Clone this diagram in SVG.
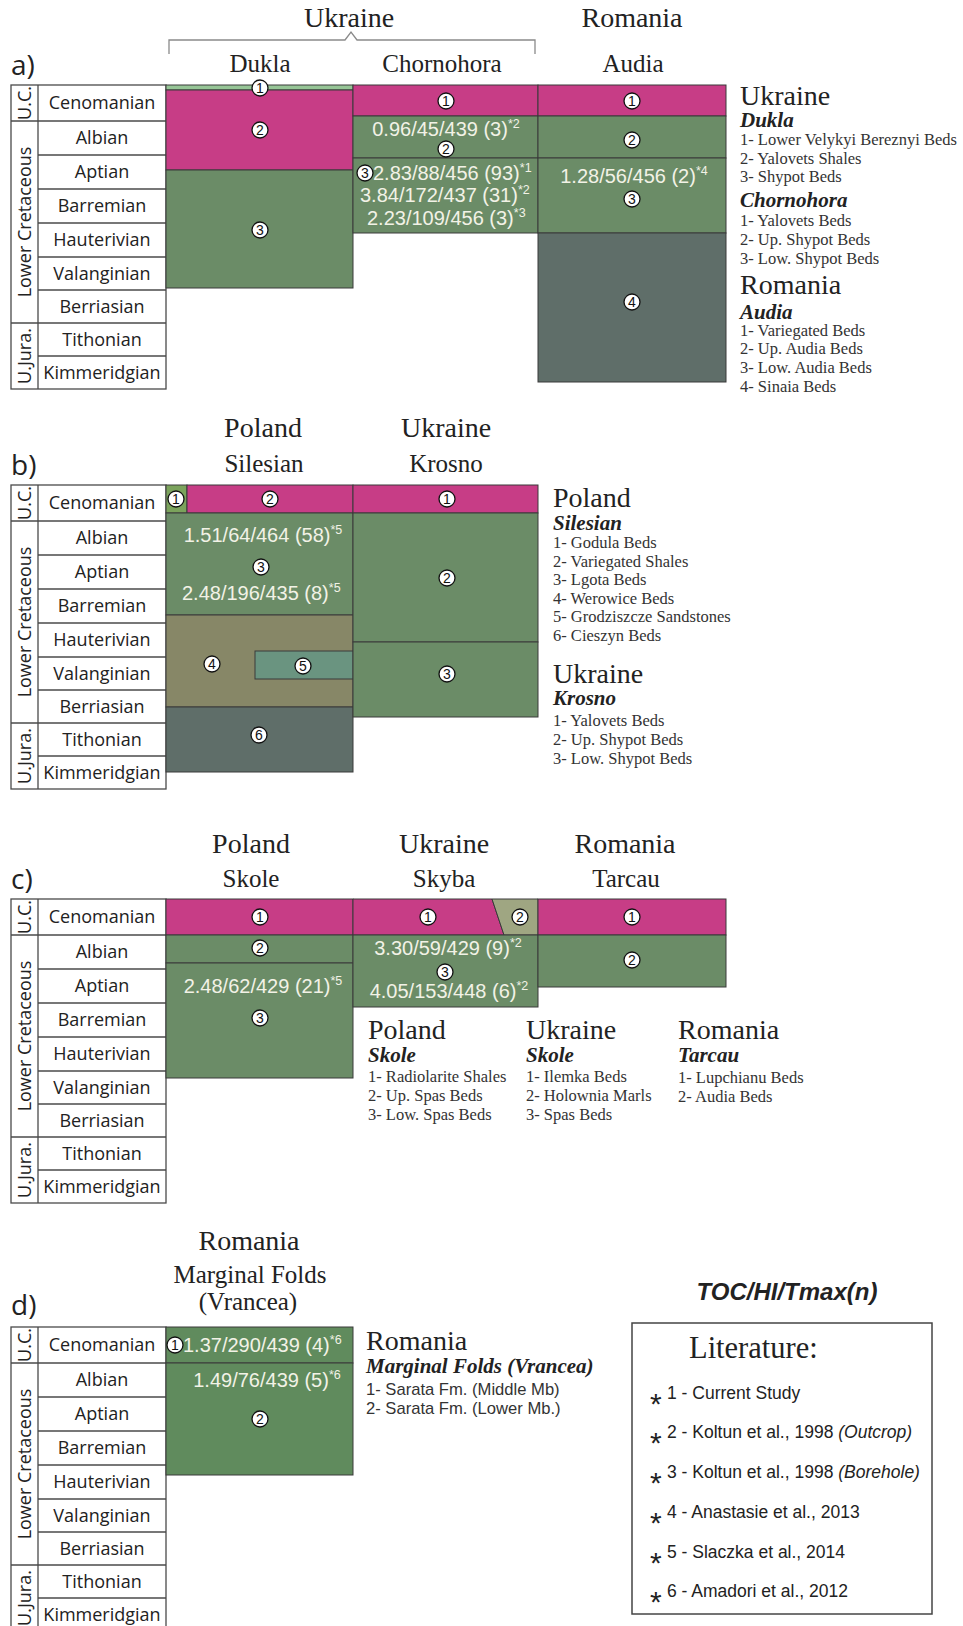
<svg xmlns="http://www.w3.org/2000/svg" width="963" height="1626" viewBox="0 0 963 1626">
<style>
.bg{fill:#ffffff}
.tbl{fill:none;stroke:#4a4a4a;stroke-width:1.3}
.ln{stroke:#4a4a4a;stroke-width:1.3}
.stage{font-family:"Open Sans","Liberation Sans",sans-serif;font-size:18px;fill:#222;text-anchor:middle}
.era{font-family:"Open Sans","Liberation Sans",sans-serif;font-size:18px;fill:#222;text-anchor:middle}
.plab{font-family:"Open Sans","Liberation Sans",sans-serif;font-size:28px;fill:#222}
.h1{font-family:"Liberation Serif","Times New Roman",serif;font-size:28px;fill:#222;text-anchor:middle}
.h2{font-family:"Liberation Serif","Times New Roman",serif;font-size:25px;fill:#222;text-anchor:middle}
.lg1{font-family:"Liberation Serif","Times New Roman",serif;font-size:28px;fill:#222}
.lg2{font-family:"Liberation Serif","Times New Roman",serif;font-size:21px;font-weight:bold;font-style:italic;fill:#222}
.lgi{font-family:"Liberation Serif","Times New Roman",serif;font-size:16.5px;fill:#333}
.lga{font-family:"Liberation Sans",Arial,sans-serif;font-size:16.6px;fill:#333}
.mag{fill:#c73d86;stroke:#3a3a3a;stroke-width:1}
.grn{fill:#6b8c67;stroke:#3a3a3a;stroke-width:1}
.olv{fill:#878767;stroke:#3a3a3a;stroke-width:1}
.tea{fill:#6a9480;stroke:#3a3a3a;stroke-width:1}
.slt{fill:#5f6e69;stroke:#3a3a3a;stroke-width:1}
.lgr{fill:#96c596;stroke:#3a3a3a;stroke-width:1}
.ygr{fill:#7ba35c;stroke:#3a3a3a;stroke-width:1}
.sol{fill:#9fa682;stroke:#3a3a3a;stroke-width:1}
.dgr{fill:#608b5d;stroke:#3a3a3a;stroke-width:1}
.val{font-family:"Liberation Sans",Arial,sans-serif;font-size:20px;fill:#f2f2e6}
.mid{text-anchor:middle}
.sup{font-size:12.5px}
.cc{fill:#ffffff;stroke:#111;stroke-width:1.3}
.cn{font-family:"Liberation Sans",Arial,sans-serif;font-size:14px;fill:#111;text-anchor:middle}
.lit{font-family:"Liberation Sans",Arial,sans-serif;font-size:17.5px;fill:#222}
.star{font-family:"Liberation Sans",Arial,sans-serif;font-size:30px;fill:#222}
</style>
<rect class="bg" x="0" y="0" width="963" height="1626"/>

<!-- ================= PANEL A ================= -->
<g id="panel-a-table">
  <rect class="tbl" x="11" y="85" width="155" height="304"/>
  <line class="ln" x1="38" y1="85" x2="38" y2="389"/>
  <line class="ln" x1="11" y1="121" x2="166" y2="121"/>
  <line class="ln" x1="38" y1="155" x2="166" y2="155"/>
  <line class="ln" x1="38" y1="189" x2="166" y2="189"/>
  <line class="ln" x1="38" y1="223" x2="166" y2="223"/>
  <line class="ln" x1="38" y1="257" x2="166" y2="257"/>
  <line class="ln" x1="38" y1="290" x2="166" y2="290"/>
  <line class="ln" x1="11" y1="323" x2="166" y2="323"/>
  <line class="ln" x1="38" y1="356" x2="166" y2="356"/>
  <text class="stage" x="102" y="109">Cenomanian</text>
  <text class="stage" x="102" y="144">Albian</text>
  <text class="stage" x="102" y="178">Aptian</text>
  <text class="stage" x="102" y="212">Barremian</text>
  <text class="stage" x="102" y="246">Hauterivian</text>
  <text class="stage" x="102" y="280">Valanginian</text>
  <text class="stage" x="102" y="313">Berriasian</text>
  <text class="stage" x="102" y="346">Tithonian</text>
  <text class="stage" x="102" y="379">Kimmeridgian</text>
  <text class="era" transform="translate(31,103) rotate(-90)">U.C.</text>
  <text class="era" transform="translate(31,222) rotate(-90)">Lower Cretaceous</text>
  <text class="era" transform="translate(31,356) rotate(-90)">U.Jura.</text>
</g>
<g id="panel-a-headers">
  <text class="plab" x="11" y="75">a)</text>
  <text class="h1" x="349" y="27">Ukraine</text>
  <text class="h1" x="632" y="27">Romania</text>
  <text class="h2" x="260" y="72">Dukla</text>
  <text class="h2" x="442" y="72">Chornohora</text>
  <text class="h2" x="633" y="72">Audia</text>
</g>
<g id="connectors">
  <polyline points="169,54 169,40 345,40 351,32 357,40 535,40 535,54" fill="none" stroke="#8a8a8a" stroke-width="1.3"/>
</g>
<g id="a-dukla">
  <rect class="lgr" x="166" y="85" width="187" height="5"/>
  <rect class="mag" x="166" y="90" width="187" height="80"/>
  <rect class="grn" x="166" y="170" width="187" height="118"/>
  <circle class="cc" cx="260" cy="88" r="8"/><text class="cn" x="260" y="93">1</text>
  <circle class="cc" cx="260" cy="130" r="8"/><text class="cn" x="260" y="135">2</text>
  <circle class="cc" cx="260" cy="230" r="8"/><text class="cn" x="260" y="235">3</text>
</g>
<g id="a-chornohora">
  <rect class="mag" x="353" y="85" width="185" height="31"/>
  <rect class="grn" x="353" y="116" width="185" height="42"/>
  <rect class="grn" x="353" y="158" width="185" height="75"/>
  <circle class="cc" cx="446" cy="101" r="8"/><text class="cn" x="446" y="106">1</text>
  <text class="val mid" x="446" y="136">0.96/45/439 (3)<tspan class="sup" dy="-8">*2</tspan></text>
  <circle class="cc" cx="446" cy="149" r="8"/><text class="cn" x="446" y="154">2</text>
  <circle class="cc" cx="365" cy="173" r="8"/><text class="cn" x="365" y="178">3</text>
  <text class="val" x="373" y="180">2.83/88/456 (93)<tspan class="sup" dy="-8">*1</tspan></text>
  <text class="val" x="360" y="202">3.84/172/437 (31)<tspan class="sup" dy="-8">*2</tspan></text>
  <text class="val" x="367" y="225">2.23/109/456 (3)<tspan class="sup" dy="-8">*3</tspan></text>
</g>
<g id="a-audia">
  <rect class="mag" x="538" y="85" width="188" height="31"/>
  <rect class="grn" x="538" y="116" width="188" height="42"/>
  <rect class="grn" x="538" y="158" width="188" height="75"/>
  <rect class="slt" x="538" y="233" width="188" height="149"/>
  <circle class="cc" cx="632" cy="101" r="8"/><text class="cn" x="632" y="106">1</text>
  <circle class="cc" cx="632" cy="140" r="8"/><text class="cn" x="632" y="145">2</text>
  <text class="val mid" x="634" y="183">1.28/56/456 (2)<tspan class="sup" dy="-8">*4</tspan></text>
  <circle class="cc" cx="632" cy="199" r="8"/><text class="cn" x="632" y="204">3</text>
  <circle class="cc" cx="632" cy="302" r="8"/><text class="cn" x="632" y="307">4</text>
</g>
<g id="a-legend">
  <text class="lg1" x="740" y="105">Ukraine</text>
  <text class="lg2" x="740" y="127">Dukla</text>
  <text class="lgi" x="740" y="145">1- Lower Velykyi Bereznyi Beds</text>
  <text class="lgi" x="740" y="164">2- Yalovets Shales</text>
  <text class="lgi" x="740" y="182">3- Shypot Beds</text>
  <text class="lg2" x="740" y="207">Chornohora</text>
  <text class="lgi" x="740" y="226">1- Yalovets Beds</text>
  <text class="lgi" x="740" y="245">2- Up. Shypot Beds</text>
  <text class="lgi" x="740" y="264">3- Low. Shypot Beds</text>
  <text class="lg1" x="740" y="294">Romania</text>
  <text class="lg2" x="740" y="319">Audia</text>
  <text class="lgi" x="740" y="336">1- Variegated Beds</text>
  <text class="lgi" x="740" y="354">2- Up. Audia Beds</text>
  <text class="lgi" x="740" y="373">3- Low. Audia Beds</text>
  <text class="lgi" x="740" y="392">4- Sinaia Beds</text>
</g>

<!-- ================= PANEL B ================= -->
<g id="panel-b-table">
  <rect class="tbl" x="11" y="485" width="155" height="304"/>
  <line class="ln" x1="38" y1="485" x2="38" y2="789"/>
  <line class="ln" x1="11" y1="521" x2="166" y2="521"/>
  <line class="ln" x1="38" y1="555" x2="166" y2="555"/>
  <line class="ln" x1="38" y1="589" x2="166" y2="589"/>
  <line class="ln" x1="38" y1="623" x2="166" y2="623"/>
  <line class="ln" x1="38" y1="657" x2="166" y2="657"/>
  <line class="ln" x1="38" y1="690" x2="166" y2="690"/>
  <line class="ln" x1="11" y1="723" x2="166" y2="723"/>
  <line class="ln" x1="38" y1="756" x2="166" y2="756"/>
  <text class="stage" x="102" y="509">Cenomanian</text>
  <text class="stage" x="102" y="544">Albian</text>
  <text class="stage" x="102" y="578">Aptian</text>
  <text class="stage" x="102" y="612">Barremian</text>
  <text class="stage" x="102" y="646">Hauterivian</text>
  <text class="stage" x="102" y="680">Valanginian</text>
  <text class="stage" x="102" y="713">Berriasian</text>
  <text class="stage" x="102" y="746">Tithonian</text>
  <text class="stage" x="102" y="779">Kimmeridgian</text>
  <text class="era" transform="translate(31,503) rotate(-90)">U.C.</text>
  <text class="era" transform="translate(31,622) rotate(-90)">Lower Cretaceous</text>
  <text class="era" transform="translate(31,756) rotate(-90)">U.Jura.</text>
</g>
<g id="panel-b-headers">
  <text class="plab" x="11" y="475">b)</text>
  <text class="h1" x="263" y="437">Poland</text>
  <text class="h2" x="264" y="472">Silesian</text>
  <text class="h1" x="446" y="437">Ukraine</text>
  <text class="h2" x="446" y="472">Krosno</text>
</g>
<g id="b-silesian">
  <rect class="ygr" x="166" y="485" width="21" height="28"/>
  <rect class="mag" x="187" y="485" width="166" height="28"/>
  <rect class="grn" x="166" y="513" width="187" height="102"/>
  <rect class="olv" x="166" y="615" width="187" height="92"/>
  <rect class="tea" x="255" y="651" width="98" height="28"/>
  <rect class="slt" x="166" y="707" width="187" height="65"/>
  <circle class="cc" cx="176" cy="499" r="8"/><text class="cn" x="176" y="504">1</text>
  <circle class="cc" cx="270" cy="499" r="8"/><text class="cn" x="270" y="504">2</text>
  <text class="val mid" x="263" y="542">1.51/64/464 (58)<tspan class="sup" dy="-8">*5</tspan></text>
  <circle class="cc" cx="261" cy="567" r="8"/><text class="cn" x="261" y="572">3</text>
  <text class="val" x="182" y="600">2.48/196/435 (8)<tspan class="sup" dy="-8">*5</tspan></text>
  <circle class="cc" cx="212" cy="664" r="8"/><text class="cn" x="212" y="669">4</text>
  <circle class="cc" cx="303" cy="666" r="8"/><text class="cn" x="303" y="671">5</text>
  <circle class="cc" cx="259" cy="735" r="8"/><text class="cn" x="259" y="740">6</text>
</g>
<g id="b-krosno">
  <rect class="mag" x="353" y="485" width="185" height="28"/>
  <rect class="grn" x="353" y="513" width="185" height="129"/>
  <rect class="grn" x="353" y="642" width="185" height="75"/>
  <circle class="cc" cx="447" cy="499" r="8"/><text class="cn" x="447" y="504">1</text>
  <circle class="cc" cx="447" cy="578" r="8"/><text class="cn" x="447" y="583">2</text>
  <circle class="cc" cx="447" cy="674" r="8"/><text class="cn" x="447" y="679">3</text>
</g>
<g id="b-legend">
  <text class="lg1" x="553" y="507">Poland</text>
  <text class="lg2" x="553" y="530">Silesian</text>
  <text class="lgi" x="553" y="548">1- Godula Beds</text>
  <text class="lgi" x="553" y="567">2- Variegated Shales</text>
  <text class="lgi" x="553" y="585">3- Lgota Beds</text>
  <text class="lgi" x="553" y="604">4- Werowice Beds</text>
  <text class="lgi" x="553" y="622">5- Grodziszcze Sandstones</text>
  <text class="lgi" x="553" y="641">6- Cieszyn Beds</text>
  <text class="lg1" x="553" y="683">Ukraine</text>
  <text class="lg2" x="553" y="705">Krosno</text>
  <text class="lgi" x="553" y="726">1- Yalovets Beds</text>
  <text class="lgi" x="553" y="745">2- Up. Shypot Beds</text>
  <text class="lgi" x="553" y="764">3- Low. Shypot Beds</text>
</g>

<!-- ================= PANEL C ================= -->
<g id="panel-c-table">
  <rect class="tbl" x="11" y="899" width="155" height="304"/>
  <line class="ln" x1="38" y1="899" x2="38" y2="1203"/>
  <line class="ln" x1="11" y1="935" x2="166" y2="935"/>
  <line class="ln" x1="38" y1="969" x2="166" y2="969"/>
  <line class="ln" x1="38" y1="1003" x2="166" y2="1003"/>
  <line class="ln" x1="38" y1="1037" x2="166" y2="1037"/>
  <line class="ln" x1="38" y1="1071" x2="166" y2="1071"/>
  <line class="ln" x1="38" y1="1104" x2="166" y2="1104"/>
  <line class="ln" x1="11" y1="1137" x2="166" y2="1137"/>
  <line class="ln" x1="38" y1="1170" x2="166" y2="1170"/>
  <text class="stage" x="102" y="923">Cenomanian</text>
  <text class="stage" x="102" y="958">Albian</text>
  <text class="stage" x="102" y="992">Aptian</text>
  <text class="stage" x="102" y="1026">Barremian</text>
  <text class="stage" x="102" y="1060">Hauterivian</text>
  <text class="stage" x="102" y="1094">Valanginian</text>
  <text class="stage" x="102" y="1127">Berriasian</text>
  <text class="stage" x="102" y="1160">Tithonian</text>
  <text class="stage" x="102" y="1193">Kimmeridgian</text>
  <text class="era" transform="translate(31,917) rotate(-90)">U.C.</text>
  <text class="era" transform="translate(31,1036) rotate(-90)">Lower Cretaceous</text>
  <text class="era" transform="translate(31,1170) rotate(-90)">U.Jura.</text>
</g>
<g id="panel-c-headers">
  <text class="plab" x="11" y="889">c)</text>
  <text class="h1" x="251" y="853">Poland</text>
  <text class="h2" x="251" y="887">Skole</text>
  <text class="h1" x="444" y="853">Ukraine</text>
  <text class="h2" x="444" y="887">Skyba</text>
  <text class="h1" x="625" y="853">Romania</text>
  <text class="h2" x="626" y="887">Tarcau</text>
</g>
<g id="c-skole">
  <rect class="mag" x="166" y="899" width="187" height="36"/>
  <rect class="grn" x="166" y="935" width="187" height="28"/>
  <rect class="grn" x="166" y="963" width="187" height="115"/>
  <circle class="cc" cx="260" cy="917" r="8"/><text class="cn" x="260" y="922">1</text>
  <circle class="cc" cx="260" cy="948" r="8"/><text class="cn" x="260" y="953">2</text>
  <text class="val mid" x="263" y="993">2.48/62/429 (21)<tspan class="sup" dy="-8">*5</tspan></text>
  <circle class="cc" cx="260" cy="1018" r="8"/><text class="cn" x="260" y="1023">3</text>
</g>
<g id="c-skyba">
  <polygon class="mag" points="353,899 492,899 504,935 353,935"/>
  <polygon class="sol" points="492,899 538,899 538,935 504,935"/>
  <rect class="grn" x="353" y="935" width="185" height="72"/>
  <circle class="cc" cx="428" cy="917" r="8"/><text class="cn" x="428" y="922">1</text>
  <circle class="cc" cx="520" cy="917" r="8"/><text class="cn" x="520" y="922">2</text>
  <text class="val mid" x="448" y="955">3.30/59/429 (9)<tspan class="sup" dy="-8">*2</tspan></text>
  <circle class="cc" cx="445" cy="972" r="8"/><text class="cn" x="445" y="977">3</text>
  <text class="val mid" x="449" y="998">4.05/153/448 (6)<tspan class="sup" dy="-8">*2</tspan></text>
</g>
<g id="c-tarcau">
  <rect class="mag" x="538" y="899" width="188" height="36"/>
  <rect class="grn" x="538" y="935" width="188" height="52"/>
  <circle class="cc" cx="632" cy="917" r="8"/><text class="cn" x="632" y="922">1</text>
  <circle class="cc" cx="632" cy="960" r="8"/><text class="cn" x="632" y="965">2</text>
</g>
<g id="c-legend">
  <text class="lg1" x="368" y="1039">Poland</text>
  <text class="lg2" x="368" y="1062">Skole</text>
  <text class="lgi" x="368" y="1082">1- Radiolarite Shales</text>
  <text class="lgi" x="368" y="1101">2- Up. Spas Beds</text>
  <text class="lgi" x="368" y="1120">3- Low. Spas Beds</text>
  <text class="lg1" x="526" y="1039">Ukraine</text>
  <text class="lg2" x="526" y="1062">Skole</text>
  <text class="lgi" x="526" y="1082">1- Ilemka Beds</text>
  <text class="lgi" x="526" y="1101">2- Holownia Marls</text>
  <text class="lgi" x="526" y="1120">3- Spas Beds</text>
  <text class="lg1" x="678" y="1039">Romania</text>
  <text class="lg2" x="678" y="1062">Tarcau</text>
  <text class="lgi" x="678" y="1083">1- Lupchianu Beds</text>
  <text class="lgi" x="678" y="1102">2- Audia Beds</text>
</g>

<!-- ================= PANEL D ================= -->
<g id="panel-d-table">
  <rect class="tbl" x="11" y="1327" width="155" height="304"/>
  <line class="ln" x1="38" y1="1327" x2="38" y2="1631"/>
  <line class="ln" x1="11" y1="1363" x2="166" y2="1363"/>
  <line class="ln" x1="38" y1="1397" x2="166" y2="1397"/>
  <line class="ln" x1="38" y1="1431" x2="166" y2="1431"/>
  <line class="ln" x1="38" y1="1465" x2="166" y2="1465"/>
  <line class="ln" x1="38" y1="1499" x2="166" y2="1499"/>
  <line class="ln" x1="38" y1="1532" x2="166" y2="1532"/>
  <line class="ln" x1="11" y1="1565" x2="166" y2="1565"/>
  <line class="ln" x1="38" y1="1598" x2="166" y2="1598"/>
  <text class="stage" x="102" y="1351">Cenomanian</text>
  <text class="stage" x="102" y="1386">Albian</text>
  <text class="stage" x="102" y="1420">Aptian</text>
  <text class="stage" x="102" y="1454">Barremian</text>
  <text class="stage" x="102" y="1488">Hauterivian</text>
  <text class="stage" x="102" y="1522">Valanginian</text>
  <text class="stage" x="102" y="1555">Berriasian</text>
  <text class="stage" x="102" y="1588">Tithonian</text>
  <text class="stage" x="102" y="1621">Kimmeridgian</text>
  <text class="era" transform="translate(31,1345) rotate(-90)">U.C.</text>
  <text class="era" transform="translate(31,1464) rotate(-90)">Lower Cretaceous</text>
  <text class="era" transform="translate(31,1598) rotate(-90)">U.Jura.</text>
</g>
<g id="panel-d-headers">
  <text class="plab" x="11" y="1315">d)</text>
  <text class="h1" x="249" y="1250">Romania</text>
  <text class="h2" x="250" y="1283">Marginal Folds</text>
  <text class="h2" x="248" y="1310">(Vrancea)</text>
</g>
<g id="d-vrancea">
  <rect class="dgr" x="166" y="1327" width="187" height="36"/>
  <rect class="dgr" x="166" y="1363" width="187" height="112"/>
  <circle class="cc" cx="175" cy="1345" r="8"/><text class="cn" x="175" y="1350">1</text>
  <text class="val" x="183" y="1352">1.37/290/439 (4)<tspan class="sup" dy="-8">*6</tspan></text>
  <text class="val mid" x="267" y="1387">1.49/76/439 (5)<tspan class="sup" dy="-8">*6</tspan></text>
  <circle class="cc" cx="260" cy="1419" r="8"/><text class="cn" x="260" y="1424">2</text>
</g>
<g id="d-legend">
  <text class="lg1" x="366" y="1350">Romania</text>
  <text class="lg2" x="366" y="1373">Marginal Folds (Vrancea)</text>
  <text class="lga" x="366" y="1395">1- Sarata Fm. (Middle Mb)</text>
  <text class="lga" x="366" y="1414">2- Sarata Fm. (Lower Mb.)</text>
</g>

<!-- ================= KEY ================= -->
<g id="toc-title">
  <text x="787" y="1300" text-anchor="middle" font-family="Liberation Sans, Arial, sans-serif" font-size="24" font-weight="bold" font-style="italic" fill="#222">TOC/HI/Tmax(n)</text>
</g>
<g id="literature-box">
  <rect x="632" y="1323" width="300" height="291" fill="none" stroke="#444" stroke-width="1.5"/>
  <text x="689" y="1358" font-family="Liberation Serif, Times New Roman, serif" font-size="30.5" fill="#222">Literature:</text>
  <text class="star" x="650" y="1414">*</text><text class="lit" x="667" y="1399">1 - Current Study</text>
  <text class="star" x="650" y="1453">*</text><text class="lit" x="667" y="1438">2 - Koltun et al., 1998 <tspan font-style="italic">(Outcrop)</tspan></text>
  <text class="star" x="650" y="1493">*</text><text class="lit" x="667" y="1478">3 - Koltun et al., 1998 <tspan font-style="italic">(Borehole)</tspan></text>
  <text class="star" x="650" y="1533">*</text><text class="lit" x="667" y="1518">4 - Anastasie et al., 2013</text>
  <text class="star" x="650" y="1573">*</text><text class="lit" x="667" y="1558">5 - Slaczka et al., 2014</text>
  <text class="star" x="650" y="1612">*</text><text class="lit" x="667" y="1597">6 - Amadori et al., 2012</text>
</g>
</svg>
